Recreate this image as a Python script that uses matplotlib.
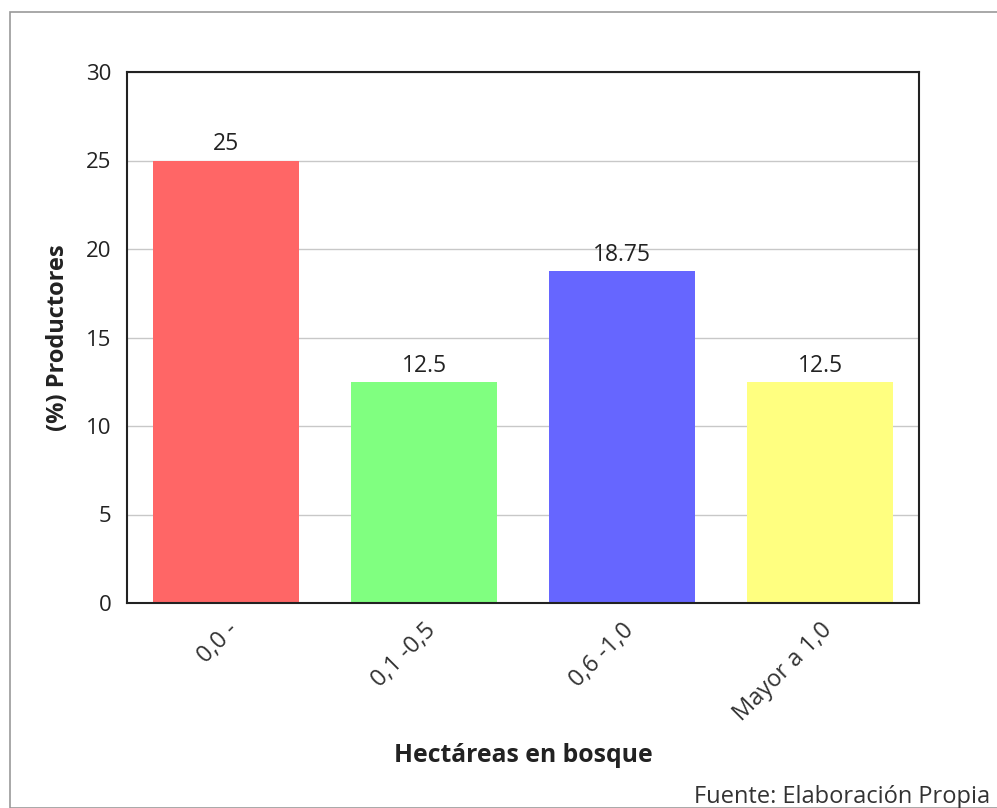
import matplotlib
matplotlib.use("Agg")
import matplotlib.pyplot as plt
import matplotlib.transforms as mtransforms
from matplotlib.patches import Rectangle

categories = ["0,0 -", "0,1 -0,5", "0,6 -1,0", "Mayor a 1,0"]
values = [25, 12.5, 18.75, 12.5]
value_labels = ["25", "12.5", "18.75", "12.5"]
colors = ["#FF6666", "#80FF80", "#6666FF", "#FFFF80"]
yticks = [0, 5, 10, 15, 20, 25, 30]

plt.rcParams['font.family'] = ['Open Sans', 'DejaVu Sans']

fig = plt.figure(figsize=(9.97, 8.08), dpi=100)
W, H = 997, 808
fig.patches.append(Rectangle((10 / W, 0), 1.2, 1 - 12 / H, transform=fig.transFigure,
                             fill=False, edgecolor="#999999", linewidth=1.2))

ax = fig.add_axes([127 / W, 1 - 603 / H, (919 - 127) / W, (603 - 72) / H])
x = list(range(len(categories)))
ax.bar(x, values, width=0.742, color=colors, zorder=2)
for xi, v, lab in zip(x, values, value_labels):
    ax.annotate(lab, (xi, v), xytext=(0, 3), textcoords="offset points",
                ha="center", va="bottom", fontsize=16.5, color="#222222")

ax.set_xlim(-0.5, 3.5)
ax.set_ylim(0, 30)
ax.set_yticks(yticks)
ax.set_yticklabels([str(t) for t in yticks], fontsize=16, color="#222222")
ax.set_xticks(x)
ax.set_xticklabels(categories, rotation=45, ha="right", rotation_mode="anchor",
                   fontsize=17, color="#333333")
shift = mtransforms.ScaledTranslation(-5 / 100, 3 / 100, fig.dpi_scale_trans)
for lbl in ax.get_xticklabels():
    lbl.set_transform(lbl.get_transform() + shift)
ax.tick_params(axis="y", length=0, pad=11)
ax.tick_params(axis="x", length=0, pad=11)
ax.yaxis.grid(True, color="#c8c8c8", linewidth=1, zorder=0)
ax.set_axisbelow(True)
for s in ax.spines.values():
    s.set_color("#222222")
    s.set_linewidth(1.5)

fig.text(58 / W, 1 - 338 / H, "(%) Productores", rotation=90, ha="center", va="center",
         fontsize=17, fontweight="bold", color="#222222")
fig.text(((127 + 919) / 2) / W, 1 - 755 / H, "Hectáreas en bosque", ha="center", va="center",
         fontsize=17.8, fontweight="bold", color="#222222")
fig.text(990 / W, 1 - 797 / H, "Fuente: Elaboración Propia", ha="right", va="center",
         fontsize=17, color="#333333")

fig.savefig("out.png", dpi=100)
